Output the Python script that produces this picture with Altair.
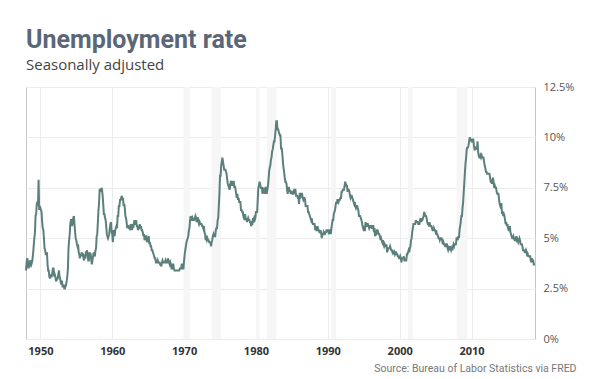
import altair as alt
import pandas as pd

# Monthly unemployment rate (%), seasonally adjusted, starting Jan 1948
START_MONTH = "1948-01-01"
rates = [
    3.4, 3.8, 4.0, 3.9, 3.5, 3.6, 3.6, 3.9, 3.8, 3.7, 3.8, 4.0,   # 1948
    4.3, 4.7, 5.0, 5.3, 6.1, 6.2, 6.7, 6.8, 6.6, 7.9, 6.4, 6.6,   # 1949
    6.5, 6.4, 6.3, 5.8, 5.5, 5.4, 5.0, 4.5, 4.4, 4.2, 4.2, 4.3,   # 1950
    3.7, 3.4, 3.4, 3.1, 3.0, 3.2, 3.1, 3.1, 3.3, 3.5, 3.5, 3.1,   # 1951
    3.2, 3.1, 2.9, 2.9, 3.0, 3.0, 3.2, 3.4, 3.1, 3.0, 2.8, 2.7,   # 1952
    2.9, 2.6, 2.6, 2.7, 2.5, 2.5, 2.6, 2.7, 2.9, 3.1, 3.5, 4.5,   # 1953
    4.9, 5.2, 5.7, 5.9, 5.9, 5.6, 5.8, 6.0, 6.1, 5.7, 5.3, 5.0,   # 1954
    4.9, 4.7, 4.6, 4.7, 4.3, 4.2, 4.0, 4.2, 4.1, 4.3, 4.2, 4.2,   # 1955
    4.0, 3.9, 4.2, 4.0, 4.3, 4.3, 4.4, 4.1, 3.9, 3.9, 4.3, 4.2,   # 1956
    4.2, 3.9, 3.7, 3.9, 4.1, 4.3, 4.2, 4.1, 4.4, 4.5, 5.1, 5.2,   # 1957
    5.8, 6.4, 6.7, 7.4, 7.4, 7.3, 7.5, 7.4, 7.1, 6.7, 6.2, 6.2,   # 1958
    6.0, 5.9, 5.6, 5.2, 5.1, 5.0, 5.1, 5.2, 5.5, 5.7, 5.8, 5.3,   # 1959
    5.2, 4.8, 5.4, 5.2, 5.1, 5.4, 5.5, 5.6, 5.5, 6.1, 6.1, 6.6,   # 1960
    6.6, 6.9, 6.9, 7.0, 7.1, 6.9, 7.0, 6.6, 6.7, 6.5, 6.1, 6.0,   # 1961
    5.8, 5.5, 5.6, 5.6, 5.5, 5.5, 5.4, 5.7, 5.6, 5.4, 5.7, 5.5,   # 1962
    5.7, 5.9, 5.7, 5.7, 5.9, 5.6, 5.6, 5.4, 5.5, 5.5, 5.7, 5.5,   # 1963
    5.6, 5.4, 5.4, 5.3, 5.1, 5.2, 4.9, 5.0, 5.1, 5.1, 4.8, 5.0,   # 1964
    4.9, 5.1, 4.7, 4.8, 4.6, 4.6, 4.4, 4.4, 4.3, 4.2, 4.1, 4.0,   # 1965
    4.0, 3.8, 3.8, 3.8, 3.9, 3.8, 3.8, 3.8, 3.7, 3.7, 3.6, 3.8,   # 1966
    3.9, 3.8, 3.8, 3.8, 3.8, 3.9, 3.8, 3.8, 3.8, 4.0, 3.9, 3.8,   # 1967
    3.7, 3.8, 3.7, 3.5, 3.5, 3.7, 3.7, 3.5, 3.4, 3.4, 3.4, 3.4,   # 1968
    3.4, 3.4, 3.4, 3.4, 3.4, 3.5, 3.5, 3.5, 3.7, 3.7, 3.5, 3.5,   # 1969
    3.9, 4.2, 4.4, 4.6, 4.8, 4.9, 5.0, 5.1, 5.4, 5.5, 5.9, 6.1,   # 1970
    5.9, 5.9, 6.0, 5.9, 5.9, 5.9, 6.0, 6.1, 6.0, 5.8, 6.0, 6.0,   # 1971
    5.8, 5.7, 5.8, 5.7, 5.7, 5.7, 5.6, 5.6, 5.5, 5.6, 5.3, 5.2,   # 1972
    4.9, 5.0, 4.9, 5.0, 4.9, 4.9, 4.8, 4.8, 4.8, 4.6, 4.8, 4.9,   # 1973
    5.1, 5.2, 5.1, 5.1, 5.1, 5.4, 5.5, 5.5, 5.9, 6.0, 6.6, 7.2,   # 1974
    8.1, 8.1, 8.6, 8.8, 9.0, 8.8, 8.6, 8.4, 8.4, 8.4, 8.3, 8.2,   # 1975
    7.9, 7.7, 7.6, 7.7, 7.4, 7.6, 7.8, 7.8, 7.6, 7.7, 7.8, 7.8,   # 1976
    7.5, 7.6, 7.4, 7.2, 7.0, 7.2, 6.9, 7.0, 6.8, 6.8, 6.8, 6.4,   # 1977
    6.4, 6.3, 6.3, 6.1, 6.0, 5.9, 6.2, 5.9, 6.0, 5.8, 5.9, 6.0,   # 1978
    5.9, 5.9, 5.8, 5.8, 5.6, 5.7, 5.7, 6.0, 5.9, 6.0, 5.9, 6.0,   # 1979
    6.3, 6.3, 6.3, 6.9, 7.5, 7.6, 7.8, 7.7, 7.5, 7.5, 7.5, 7.2,   # 1980
    7.5, 7.4, 7.4, 7.2, 7.5, 7.5, 7.2, 7.4, 7.6, 7.9, 8.3, 8.5,   # 1981
    8.6, 8.9, 9.0, 9.3, 9.4, 9.6, 9.8, 9.8, 10.1, 10.4, 10.8, 10.8,  # 1982
    10.4, 10.4, 10.3, 10.2, 10.1, 10.1, 9.4, 9.5, 9.2, 8.8, 8.5, 8.3,  # 1983
    8.0, 7.8, 7.8, 7.7, 7.4, 7.2, 7.5, 7.5, 7.3, 7.4, 7.2, 7.3,   # 1984
    7.3, 7.2, 7.2, 7.3, 7.2, 7.4, 7.4, 7.1, 7.1, 7.1, 7.0, 7.0,   # 1985
    6.7, 7.2, 7.2, 7.1, 7.2, 7.2, 7.0, 6.9, 7.0, 7.0, 6.9, 6.6,   # 1986
    6.6, 6.6, 6.6, 6.3, 6.3, 6.2, 6.1, 6.0, 5.9, 6.0, 5.8, 5.7,   # 1987
    5.7, 5.7, 5.7, 5.4, 5.6, 5.4, 5.4, 5.6, 5.4, 5.4, 5.3, 5.3,   # 1988
    5.4, 5.2, 5.0, 5.2, 5.2, 5.3, 5.2, 5.2, 5.3, 5.3, 5.4, 5.4,   # 1989
    5.4, 5.3, 5.2, 5.4, 5.4, 5.2, 5.5, 5.7, 5.9, 5.9, 6.2, 6.3,   # 1990
    6.4, 6.6, 6.8, 6.7, 6.9, 6.9, 6.8, 6.9, 6.9, 7.0, 7.0, 7.3,   # 1991
    7.3, 7.4, 7.4, 7.4, 7.6, 7.8, 7.7, 7.6, 7.6, 7.3, 7.4, 7.4,   # 1992
    7.3, 7.1, 7.0, 7.1, 7.1, 7.0, 6.9, 6.8, 6.7, 6.8, 6.6, 6.5,   # 1993
    6.6, 6.6, 6.5, 6.4, 6.1, 6.1, 6.1, 6.0, 5.9, 5.8, 5.6, 5.5,   # 1994
    5.6, 5.4, 5.4, 5.8, 5.6, 5.6, 5.7, 5.7, 5.6, 5.5, 5.6, 5.6,   # 1995
    5.6, 5.5, 5.5, 5.6, 5.6, 5.3, 5.5, 5.1, 5.2, 5.2, 5.4, 5.4,   # 1996
    5.3, 5.2, 5.2, 5.1, 4.9, 5.0, 4.9, 4.8, 4.9, 4.7, 4.6, 4.7,   # 1997
    4.6, 4.6, 4.7, 4.3, 4.4, 4.5, 4.5, 4.5, 4.6, 4.5, 4.4, 4.4,   # 1998
    4.3, 4.4, 4.2, 4.3, 4.2, 4.3, 4.3, 4.2, 4.2, 4.1, 4.1, 4.0,   # 1999
    4.0, 4.1, 4.0, 3.8, 4.0, 4.0, 4.0, 4.1, 3.9, 3.9, 3.9, 3.9,   # 2000
    4.2, 4.2, 4.3, 4.4, 4.3, 4.5, 4.6, 4.9, 5.0, 5.3, 5.5, 5.7,   # 2001
    5.7, 5.7, 5.7, 5.9, 5.8, 5.8, 5.8, 5.7, 5.7, 5.7, 5.9, 6.0,   # 2002
    5.8, 5.9, 5.9, 6.0, 6.1, 6.3, 6.2, 6.1, 6.1, 6.0, 5.8, 5.7,   # 2003
    5.7, 5.6, 5.8, 5.6, 5.6, 5.6, 5.5, 5.4, 5.4, 5.5, 5.4, 5.4,   # 2004
    5.3, 5.4, 5.2, 5.2, 5.1, 5.0, 5.0, 4.9, 5.0, 5.0, 5.0, 4.9,   # 2005
    4.7, 4.8, 4.7, 4.7, 4.6, 4.6, 4.7, 4.7, 4.5, 4.4, 4.5, 4.4,   # 2006
    4.6, 4.5, 4.4, 4.5, 4.4, 4.6, 4.7, 4.6, 4.7, 4.7, 4.7, 5.0,   # 2007
    5.0, 4.9, 5.1, 5.0, 5.4, 5.6, 5.8, 6.1, 6.1, 6.5, 6.8, 7.3,   # 2008
    7.8, 8.3, 8.7, 9.0, 9.4, 9.5, 9.5, 9.6, 9.8, 10.0, 9.9, 9.9,  # 2009
    9.8, 9.8, 9.9, 9.9, 9.6, 9.4, 9.4, 9.5, 9.5, 9.4, 9.8, 9.3,   # 2010
    9.1, 9.0, 9.0, 9.1, 9.0, 9.1, 9.0, 9.0, 9.0, 8.8, 8.6, 8.5,   # 2011
    8.3, 8.3, 8.2, 8.2, 8.2, 8.2, 8.2, 8.0, 7.8, 7.8, 7.7, 7.9,   # 2012
    8.0, 7.7, 7.5, 7.6, 7.5, 7.5, 7.3, 7.2, 7.2, 7.2, 6.9, 6.7,   # 2013
    6.6, 6.7, 6.7, 6.2, 6.3, 6.1, 6.2, 6.1, 5.9, 5.7, 5.8, 5.6,   # 2014
    5.7, 5.5, 5.4, 5.4, 5.6, 5.3, 5.2, 5.1, 5.0, 5.0, 5.1, 5.0,   # 2015
    4.9, 4.9, 5.0, 5.1, 4.8, 4.9, 4.8, 4.9, 5.0, 4.9, 4.7, 4.7,   # 2016
    4.7, 4.6, 4.4, 4.4, 4.4, 4.3, 4.3, 4.4, 4.3, 4.1, 4.2, 4.1,   # 2017
    4.1, 4.1, 4.1, 3.9, 3.8, 4.0, 3.9, 3.9, 3.7, 3.7, 3.7,        # 2018
]

# Recession periods shown as shaded bands
rec_start = ["1969-12-01", "1973-11-01", "1980-01-01", "1981-07-01",
             "1990-07-01", "2001-03-01", "2007-12-01"]
rec_end = ["1970-11-01", "1975-03-01", "1980-07-01", "1982-11-01",
           "1991-03-01", "2001-11-01", "2009-06-01"]

decade_ticks = [1950, 1960, 1970, 1980, 1990, 2000, 2010]
y_ticks = [0, 2.5, 5, 7.5, 10, 12.5]

TITLE = "Unemployment rate"
SUBTITLE = "Seasonally adjusted"
SOURCE = "Source: Bureau of Labor Statistics via FRED"

dates = pd.date_range(START_MONTH, periods=len(rates), freq="MS").strftime("%Y-%m-%d")
df = pd.DataFrame({"date": list(dates), "rate": rates})
rec = pd.DataFrame({"start": rec_start, "end": rec_end})

x_axis = alt.Axis(
    values=[alt.DateTime(year=y, month=1, date=1) for y in decade_ticks],
    format="%Y", grid=True, gridColor="#ececec", gridWidth=1,
    ticks=False, domain=False,
    labelFont="Open Sans", labelFontSize=11, labelFontWeight="bold",
    labelColor="#333333", labelPadding=6,
    title=SOURCE, titleFont="Roboto", titleFontSize=10.5,
    titleFontWeight="normal", titleColor="#777777",
    titleAlign="right", titleAnchor="end", titleBaseline="alphabetic",
    titleX=550, titleY=32,
)
y_axis = alt.Axis(
    orient="right", values=y_ticks, labelExpr="datum.value + '%'",
    grid=True, gridColor="#ececec", gridWidth=1,
    ticks=False, domain=False,
    labelFont="Open Sans", labelFontSize=11, labelColor="#555555",
    labelPadding=8, title=None,
)
x_scale = alt.Scale(nice=False)
y_scale = alt.Scale(domain=[0, 12.5], nice=False)

bands = alt.Chart(rec).mark_rect(color="#f6f6f6").encode(
    x=alt.X("start:T", scale=x_scale, axis=x_axis),
    x2="end:T",
    y=alt.datum(0, type="quantitative", scale=y_scale, axis=y_axis),
    y2=alt.datum(12.5),
)

line = alt.Chart(df).mark_line(color="#5b7f7b", strokeWidth=2).encode(
    x=alt.X("date:T", scale=x_scale, axis=x_axis),
    y=alt.Y("rate:Q", scale=y_scale, axis=y_axis),
)

chart = alt.layer(bands, line).properties(
    width=509, height=252,
    autosize="none",
    padding={"left": 18, "top": 79, "right": 57, "bottom": 39},
    title=alt.TitleParams(
        text=TITLE, subtitle=SUBTITLE, anchor="start", frame="group",
        font="Roboto", fontSize=25, fontWeight="bold", color="#5b6676",
        subtitleFont="Open Sans", subtitleFontSize=15, subtitleColor="#444444",
        subtitlePadding=5, offset=8,
    ),
).configure_view(stroke="#c6c6c6", strokeWidth=1)

chart.save("out.html", embed_options={"renderer": "svg", "actions": False})
